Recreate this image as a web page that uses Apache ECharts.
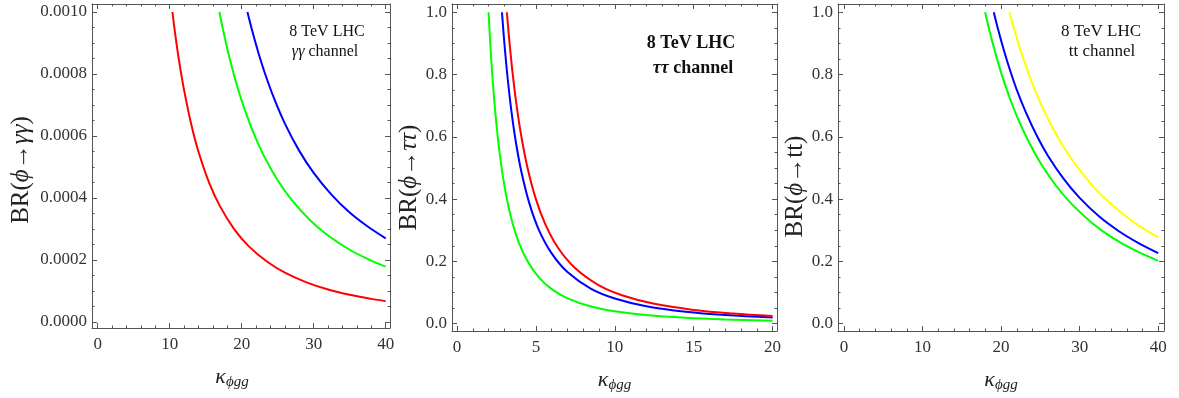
<!DOCTYPE html>
<html><head><meta charset="utf-8">
<script src="https://cdn.jsdelivr.net/npm/echarts@6/dist/echarts.min.js"></script>
<style>html,body{margin:0;padding:0;background:#fff}#c{width:1179px;height:398px}</style>
</head><body><div id="c"></div>
<script>
// ---------- data ----------
// Panel 1: gamma gamma channel
const kGG_red   = [10.38, 10.8, 11.3, 12, 13, 14, 15.5, 17, 19, 21, 23.5, 26, 29, 32, 35, 38, 40];
const brGG_red  = [0.001, 0.000923, 0.000843, 0.000748, 0.000637, 0.000549, 0.000448, 0.000373, 0.000298, 0.000244, 0.000195, 0.000159, 0.000128, 0.000105, 0.0000879, 0.0000746, 0.0000673];
const kGG_green = [16.9, 17.5, 18.2, 19, 20, 21.5, 23, 25, 27, 29.5, 32, 35, 38, 40];
const brGG_green= [0.001, 0.000933, 0.000862, 0.000791, 0.000714, 0.000618, 0.00054, 0.000457, 0.000392, 0.000328, 0.000279, 0.000233, 0.000198, 0.0001785];
const kGG_blue  = [20.8, 21.5, 22.3, 23.2, 24.5, 26, 28, 30, 32.5, 35, 37.5, 40];
const brGG_blue = [0.001, 0.000936, 0.00087, 0.000804, 0.000721, 0.00064, 0.000552, 0.000481, 0.00041, 0.000353, 0.000308, 0.00027];
// Panel 2: tau tau channel
const kTT_green = [2.0, 2.1, 2.25, 2.45, 2.7, 3.0, 3.4, 3.9, 4.5, 5.2, 6, 7, 8.5, 10, 12, 14.5, 17, 20];
const brTT_green= [1.0, 0.907, 0.79, 0.666, 0.549, 0.444, 0.346, 0.263, 0.198, 0.148, 0.111, 0.0816, 0.0554, 0.04, 0.0278, 0.019, 0.0138, 0.01];
const kTT_blue  = [2.85, 3.0, 3.2, 3.45, 3.75, 4.1, 4.6, 5.2, 6, 7, 8.5, 10, 12, 14.5, 17, 20];
const brTT_blue = [1.0, 0.902, 0.793, 0.682, 0.577, 0.483, 0.384, 0.3, 0.226, 0.166, 0.112, 0.0812, 0.0564, 0.0386, 0.0281, 0.0203];
const kTT_red   = [3.16, 3.3, 3.5, 3.75, 4.05, 4.45, 5, 5.6, 6.4, 7.5, 9, 10.5, 12.5, 15, 17.5, 20];
const brTT_red  = [1.0, 0.918, 0.816, 0.711, 0.61, 0.505, 0.4, 0.319, 0.244, 0.178, 0.123, 0.0907, 0.064, 0.0444, 0.0327, 0.025];
// Panel 3: tt channel
const kTop_green  = [17.97, 18.5, 19.2, 20, 21, 22.2, 23.6, 25, 27, 29, 31.5, 34, 37, 40];
const brTop_green = [1.0, 0.943, 0.876, 0.807, 0.732, 0.655, 0.58, 0.517, 0.443, 0.384, 0.325, 0.279, 0.236, 0.202];
const kTop_blue   = [19.07, 19.6, 20.3, 21.1, 22, 23.2, 24.6, 26, 28, 30, 32.5, 35, 37.5, 40];
const brTop_blue  = [1.0, 0.947, 0.883, 0.817, 0.751, 0.676, 0.601, 0.538, 0.464, 0.404, 0.344, 0.297, 0.259, 0.227];
const kTop_yellow = [21.06, 21.6, 22.3, 23.1, 24, 25.2, 26.6, 28, 30, 32, 34.5, 37, 40];
const brTop_yellow= [1.0, 0.951, 0.892, 0.831, 0.77, 0.698, 0.627, 0.566, 0.493, 0.433, 0.373, 0.324, 0.277];

// tick labels
const xTicks40 = [0, 10, 20, 30, 40];
const xTicks20 = [0, 5, 10, 15, 20];
const yTicksGG = [0, 0.0002, 0.0004, 0.0006, 0.0008, 0.0010];
const yTicks1  = [0, 0.2, 0.4, 0.6, 0.8, 1.0];

// ---------- layout / style ----------
const FRAME = '#555';
const LABEL = '#333';
const SERIF = 'Liberation Serif';
const RED = '#ff0000', GREEN = '#00ff00', BLUE = '#0000ff', YELLOW = '#ffff00';

function range(a, b, step) { const r = []; for (let v = a; v <= b + step * 1e-6; v += step) r.push(+v.toFixed(8)); return r; }
function minorOf(major, step) {
  const lo = major[0], hi = major[major.length - 1];
  return range(lo, hi, step).filter(v => !major.some(m => Math.abs(m - v) < step * 1e-3));
}

function frameAxes(gi, dim, min, max, major, minorStep, fmt, nameCfg) {
  const minor = minorOf(major, minorStep);
  const base = {
    gridIndex: gi, type: 'value', min: min, max: max, scale: true,
    splitLine: { show: false }, silent: true
  };
  const posA = dim === 'x' ? 'bottom' : 'left';
  const posB = dim === 'x' ? 'top' : 'right';
  const main = Object.assign({}, base, {
    position: posA,
    axisLine: { show: true, onZero: false, lineStyle: { color: FRAME, width: 1 } },
    axisTick: { show: true, inside: true, length: 5, customValues: major, lineStyle: { color: FRAME } },
    axisLabel: { show: true, customValues: major, formatter: fmt, color: LABEL,
      fontFamily: SERIF, fontSize: 17, margin: dim === 'x' ? 8 : 5 }
  }, nameCfg || {});
  const mk = (pos, line, ticks, len) => Object.assign({}, base, {
    position: pos,
    axisLine: { show: line, onZero: false, lineStyle: { color: FRAME, width: 1 } },
    axisTick: { show: true, inside: true, length: len, customValues: ticks, lineStyle: { color: FRAME } },
    axisLabel: { show: false }
  });
  return [main, mk(posA, false, minor, 2.5), mk(posB, true, major, 5), mk(posB, false, minor, 2.5)];
}

const xNameRich = {
  k: { fontFamily: SERIF, fontStyle: 'italic', fontSize: 22, lineHeight: 26, verticalAlign: 'middle', color: '#222' },
  s: { fontFamily: SERIF, fontStyle: 'italic', fontSize: 15, lineHeight: 14, verticalAlign: 'bottom', color: '#222' }
};
const yNameRich = {
  n: { fontFamily: SERIF, fontSize: 25, color: '#222' },
  i: { fontFamily: SERIF, fontStyle: 'italic', fontSize: 25, color: '#222' }
};
function xName(padR) {
  return { name: '{k|κ}{s|ϕgg}', nameLocation: 'middle', nameGap: 36,
    nameTextStyle: { rich: xNameRich, padding: [0, padR, 0, 0] } };
}
function yName(txt, gap, padR) {
  return { name: txt, nameLocation: 'middle', nameGap: gap, nameRotate: 90,
    nameTextStyle: { rich: yNameRich, padding: [0, padR, 0, 0] } };
}

const grids = [
  { left: 92, top: 4, width: 298, height: 324 },
  { left: 452, top: 4, width: 325, height: 328 },
  { left: 838, top: 4, width: 326, height: 328 }
];

const fmtInt = v => String(Math.round(v));
const fmt4 = v => v.toFixed(4);
const fmt1 = v => v.toFixed(1);

const xAxes = [].concat(
  frameAxes(0, 'x', -0.79, 40.6, xTicks40, 2, fmtInt, xName(18)),
  frameAxes(1, 'x', -0.317, 20.28, xTicks20, 1, fmtInt, xName(0)),
  frameAxes(2, 'x', -0.76, 40.74, xTicks40, 2, fmtInt, xName(0))
);
const yAxes = [].concat(
  frameAxes(0, 'y', -0.0000194, 0.0010258, yTicksGG, 0.00005, fmt4, yName('{n|BR(}{i|ϕ}{n|→}{i|γγ}{n|)}', 58, 8)),
  frameAxes(1, 'y', -0.0233, 1.0265, yTicks1, 0.05, fmt1, yName('{n|BR(}{i|ϕ}{n|→}{i|ττ}{n|)}', 30, 20)),
  frameAxes(2, 'y', -0.0233, 1.0265, yTicks1, 0.05, fmt1, yName('{n|BR(}{i|ϕ}{n|→tt)}', 29, 38))
);

function line(gi, ks, brs, color) {
  return {
    type: 'line', xAxisIndex: gi * 4, yAxisIndex: gi * 4,
    data: ks.map((k, i) => [k, brs[i]]),
    showSymbol: false, smooth: 0.35, clip: true,
    lineStyle: { color: color, width: 2 }, itemStyle: { color: color },
    silent: true, animation: false
  };
}

const series = [
  line(0, kGG_red, brGG_red, RED),
  line(0, kGG_green, brGG_green, GREEN),
  line(0, kGG_blue, brGG_blue, BLUE),
  line(1, kTT_green, brTT_green, GREEN),
  line(1, kTT_blue, brTT_blue, BLUE),
  line(1, kTT_red, brTT_red, RED),
  line(2, kTop_green, brTop_green, GREEN),
  line(2, kTop_blue, brTop_blue, BLUE),
  line(2, kTop_yellow, brTop_yellow, YELLOW)
];

function note(x, y, text, size, bold, rich) {
  return { type: 'text', x: x, y: y, silent: true,
    style: { text: text, fontFamily: SERIF, fontSize: size, fontWeight: bold ? 'bold' : 'normal',
      fill: '#111', align: 'center', verticalAlign: 'middle', rich: rich || undefined } };
}
const itRich = (size, bold) => ({
  i: { fontFamily: SERIF, fontStyle: 'italic', fontSize: size, fontWeight: bold ? 'bold' : 'normal', fill: '#111' },
  n: { fontFamily: SERIF, fontSize: size, fontWeight: bold ? 'bold' : 'normal', fill: '#111' }
});

const chart = echarts.init(document.getElementById('c'), null, { renderer: 'canvas' });
chart.setOption({
  backgroundColor: '#fff',
  animation: false,
  grid: grids,
  xAxis: xAxes,
  yAxis: yAxes,
  series: series,
  graphic: [
    note(327, 32, '8 TeV LHC', 16, false),
    note(325, 52, '{i|γγ}{n| channel}', 16, false, itRich(16, false)),
    note(691, 43, '8 TeV LHC', 18, true),
    note(693, 68, '{i|ττ}{n| channel}', 18, true, itRich(18, true)),
    note(1101, 32, '8 TeV LHC', 17, false),
    note(1102, 52, 'tt channel', 17, false)
  ]
});
</script></body></html>
